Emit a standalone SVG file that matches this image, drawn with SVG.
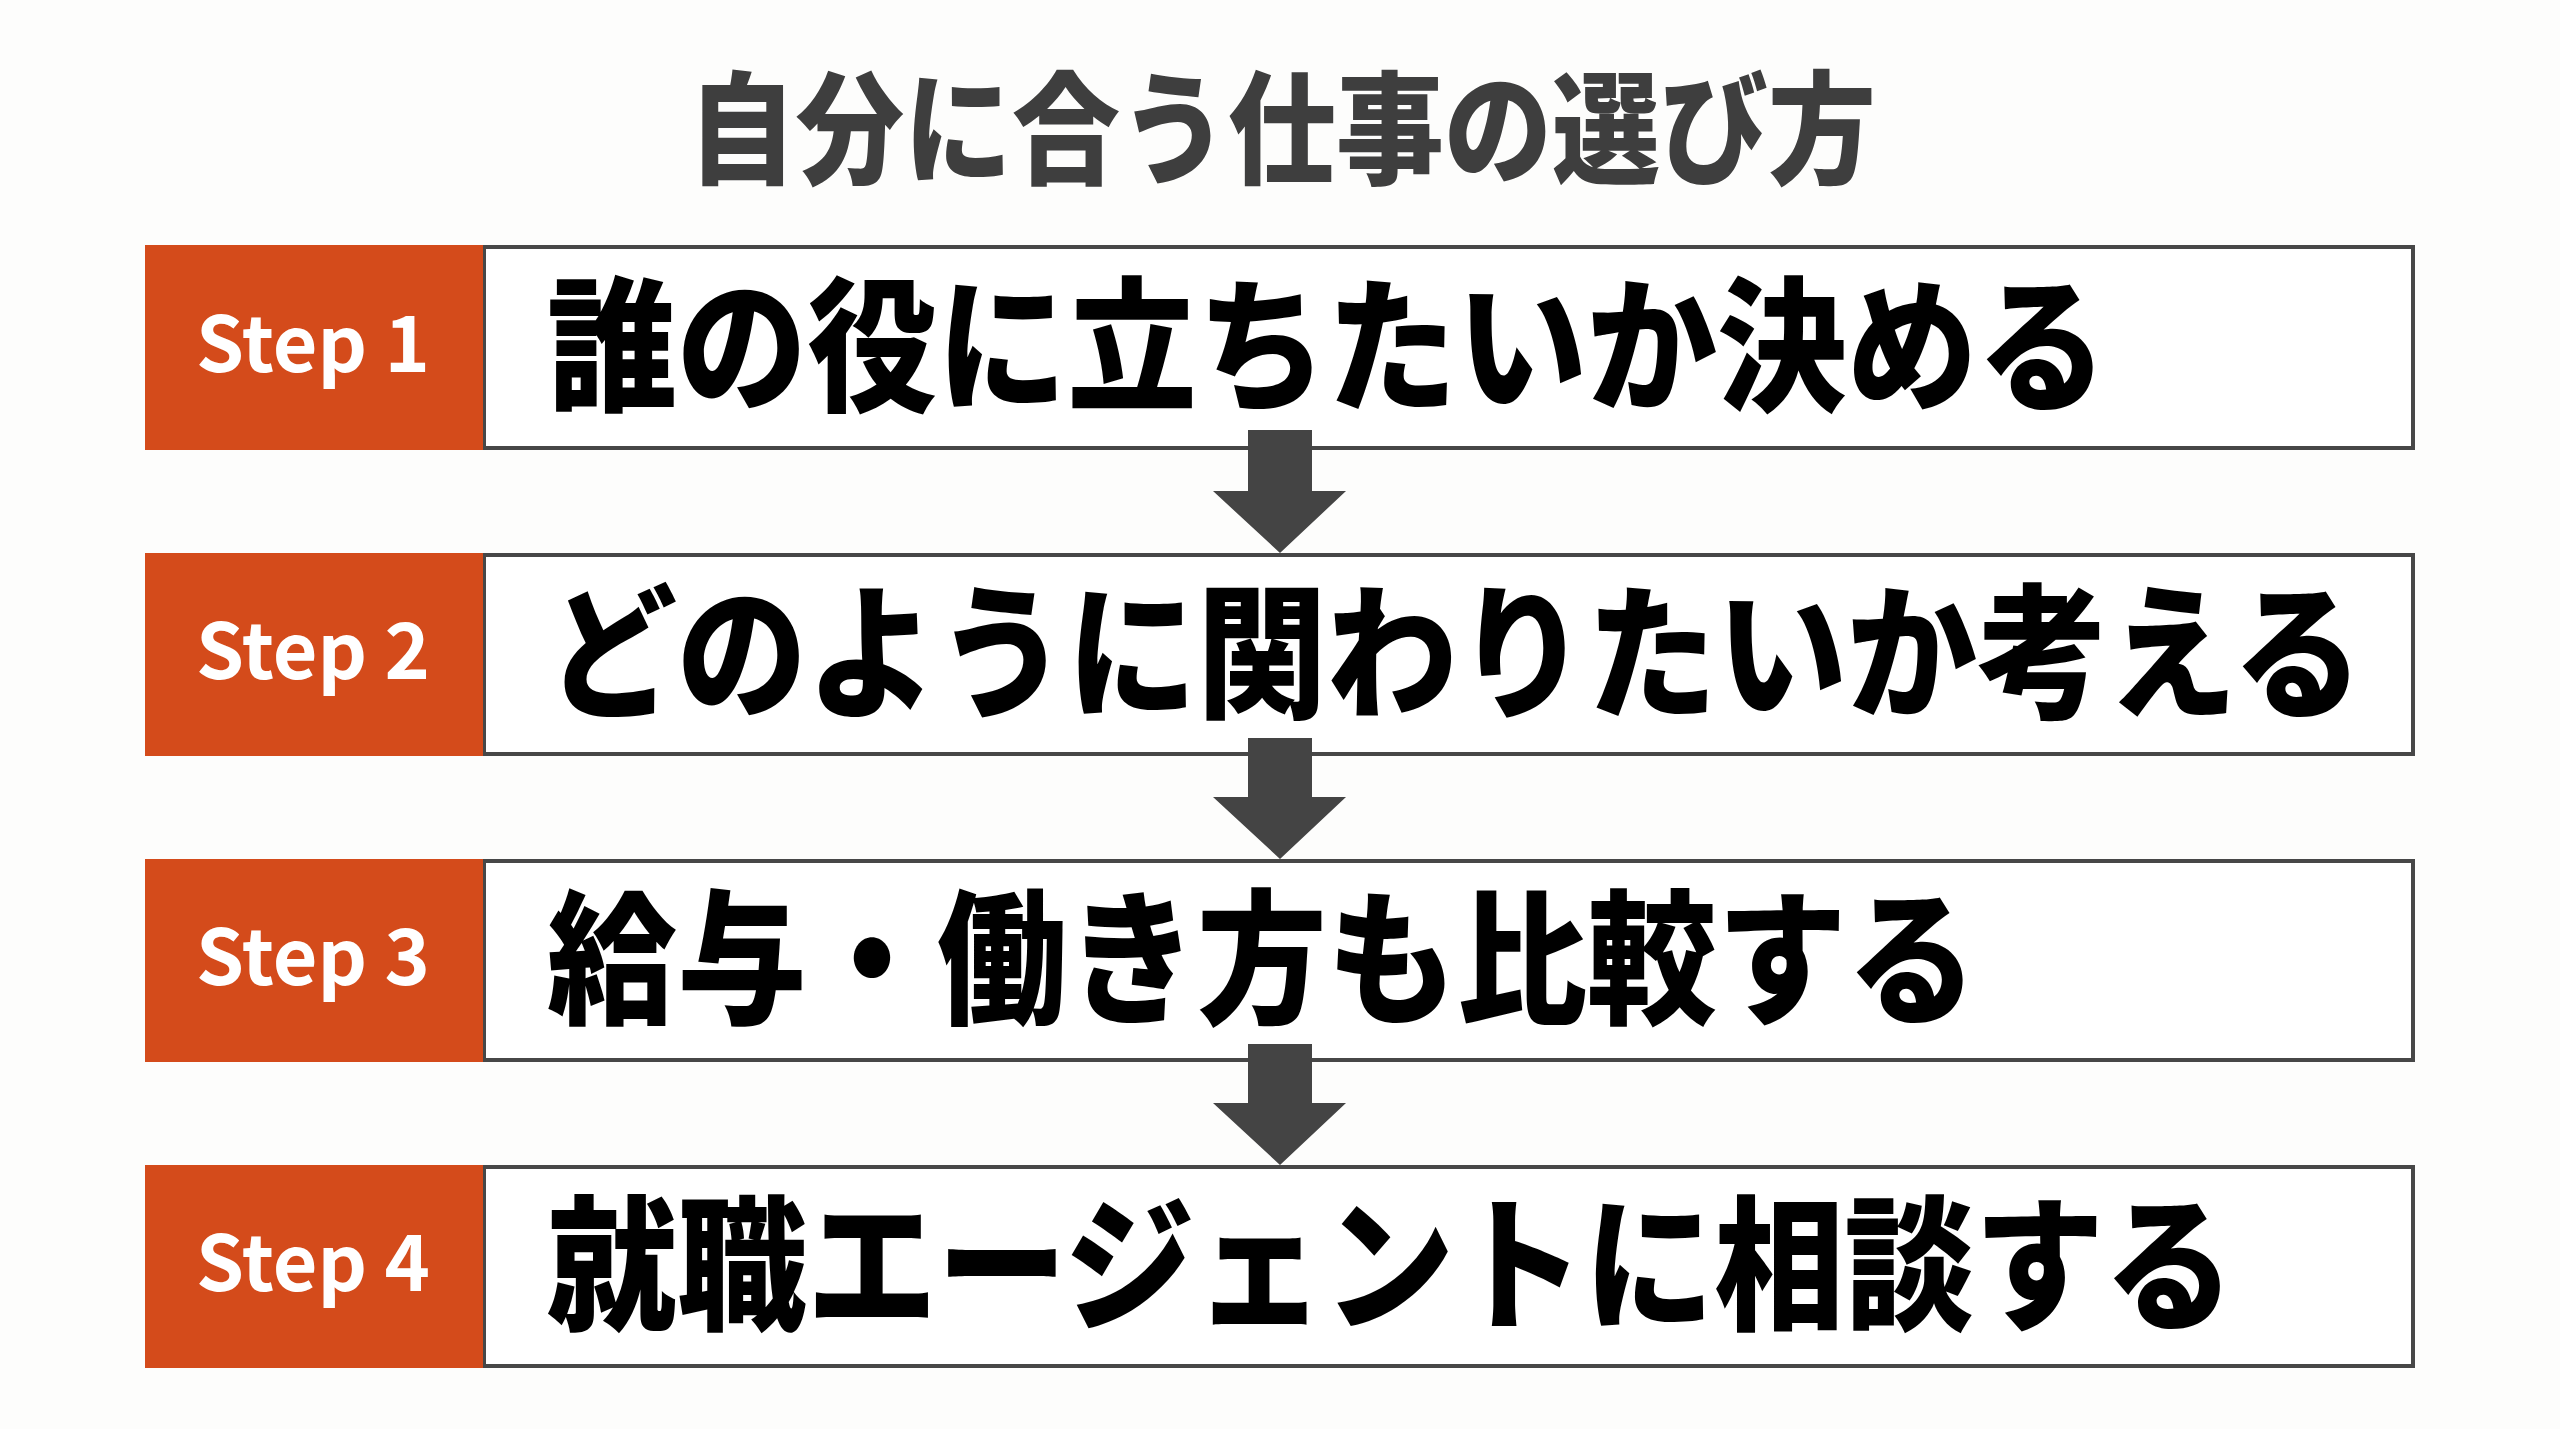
<svg xmlns="http://www.w3.org/2000/svg" width="2560" height="1429" viewBox="0 0 2560 1429">
<style>
.bg{fill:#fdfdfc}
.tag{fill:#d44b1b}
.box{fill:#ffffff;stroke:#474747;stroke-width:4}
.step{font-family:"Noto Sans CJK JP","Noto Sans",sans-serif;font-weight:700;font-size:77px;fill:#ffffff;text-anchor:middle}
.main{font-family:"Noto Sans CJK JP",sans-serif;font-weight:900;font-size:130px;fill:#000000}
.title{font-family:"Noto Sans CJK JP",sans-serif;font-weight:900;font-size:108px;fill:#3e3e3e;text-anchor:middle}
.arrow{fill:#444444}
</style>
<rect class="bg" x="0" y="0" width="2560" height="1429"/>
<g id="title"><text class="title" transform="translate(1282,174) scale(1,1.13)">自分に合う仕事の選び方</text></g>
<g id="step1">
<rect class="box" x="484" y="247" width="1929" height="201"/>
<rect class="tag" x="145" y="245" width="338" height="205"/>
<text class="step" x="313" y="372">Step 1</text>
<text class="main" transform="translate(547,400) scale(1,1.12)">誰の役に立ちたいか決める</text>
</g>
<g id="step2">
<rect class="box" x="484" y="555" width="1929" height="199"/>
<rect class="tag" x="145" y="553" width="338" height="203"/>
<text class="step" x="313" y="679">Step 2</text>
<text class="main" transform="translate(547,707) scale(1,1.12)">どのように関わりたいか考える</text>
</g>
<g id="step3">
<rect class="box" x="484" y="861" width="1929" height="199"/>
<rect class="tag" x="145" y="859" width="338" height="203"/>
<text class="step" x="313" y="985">Step 3</text>
<text class="main" transform="translate(547,1013) scale(1,1.12)">給与・働き方も比較する</text>
</g>
<g id="step4">
<rect class="box" x="484" y="1167" width="1929" height="199"/>
<rect class="tag" x="145" y="1165" width="338" height="203"/>
<text class="step" x="313" y="1291">Step 4</text>
<text class="main" transform="translate(547,1319) scale(1,1.12)">就職エージェントに相談する</text>
</g>
<g id="connectors">
<polygon class="arrow" points="1248,430 1312,430 1312,491 1346,491 1280,553 1213,491 1248,491"/>
<polygon class="arrow" points="1248,738 1312,738 1312,797 1346,797 1280,859 1213,797 1248,797"/>
<polygon class="arrow" points="1248,1044 1312,1044 1312,1103 1346,1103 1280,1165 1213,1103 1248,1103"/>
</g>
</svg>
